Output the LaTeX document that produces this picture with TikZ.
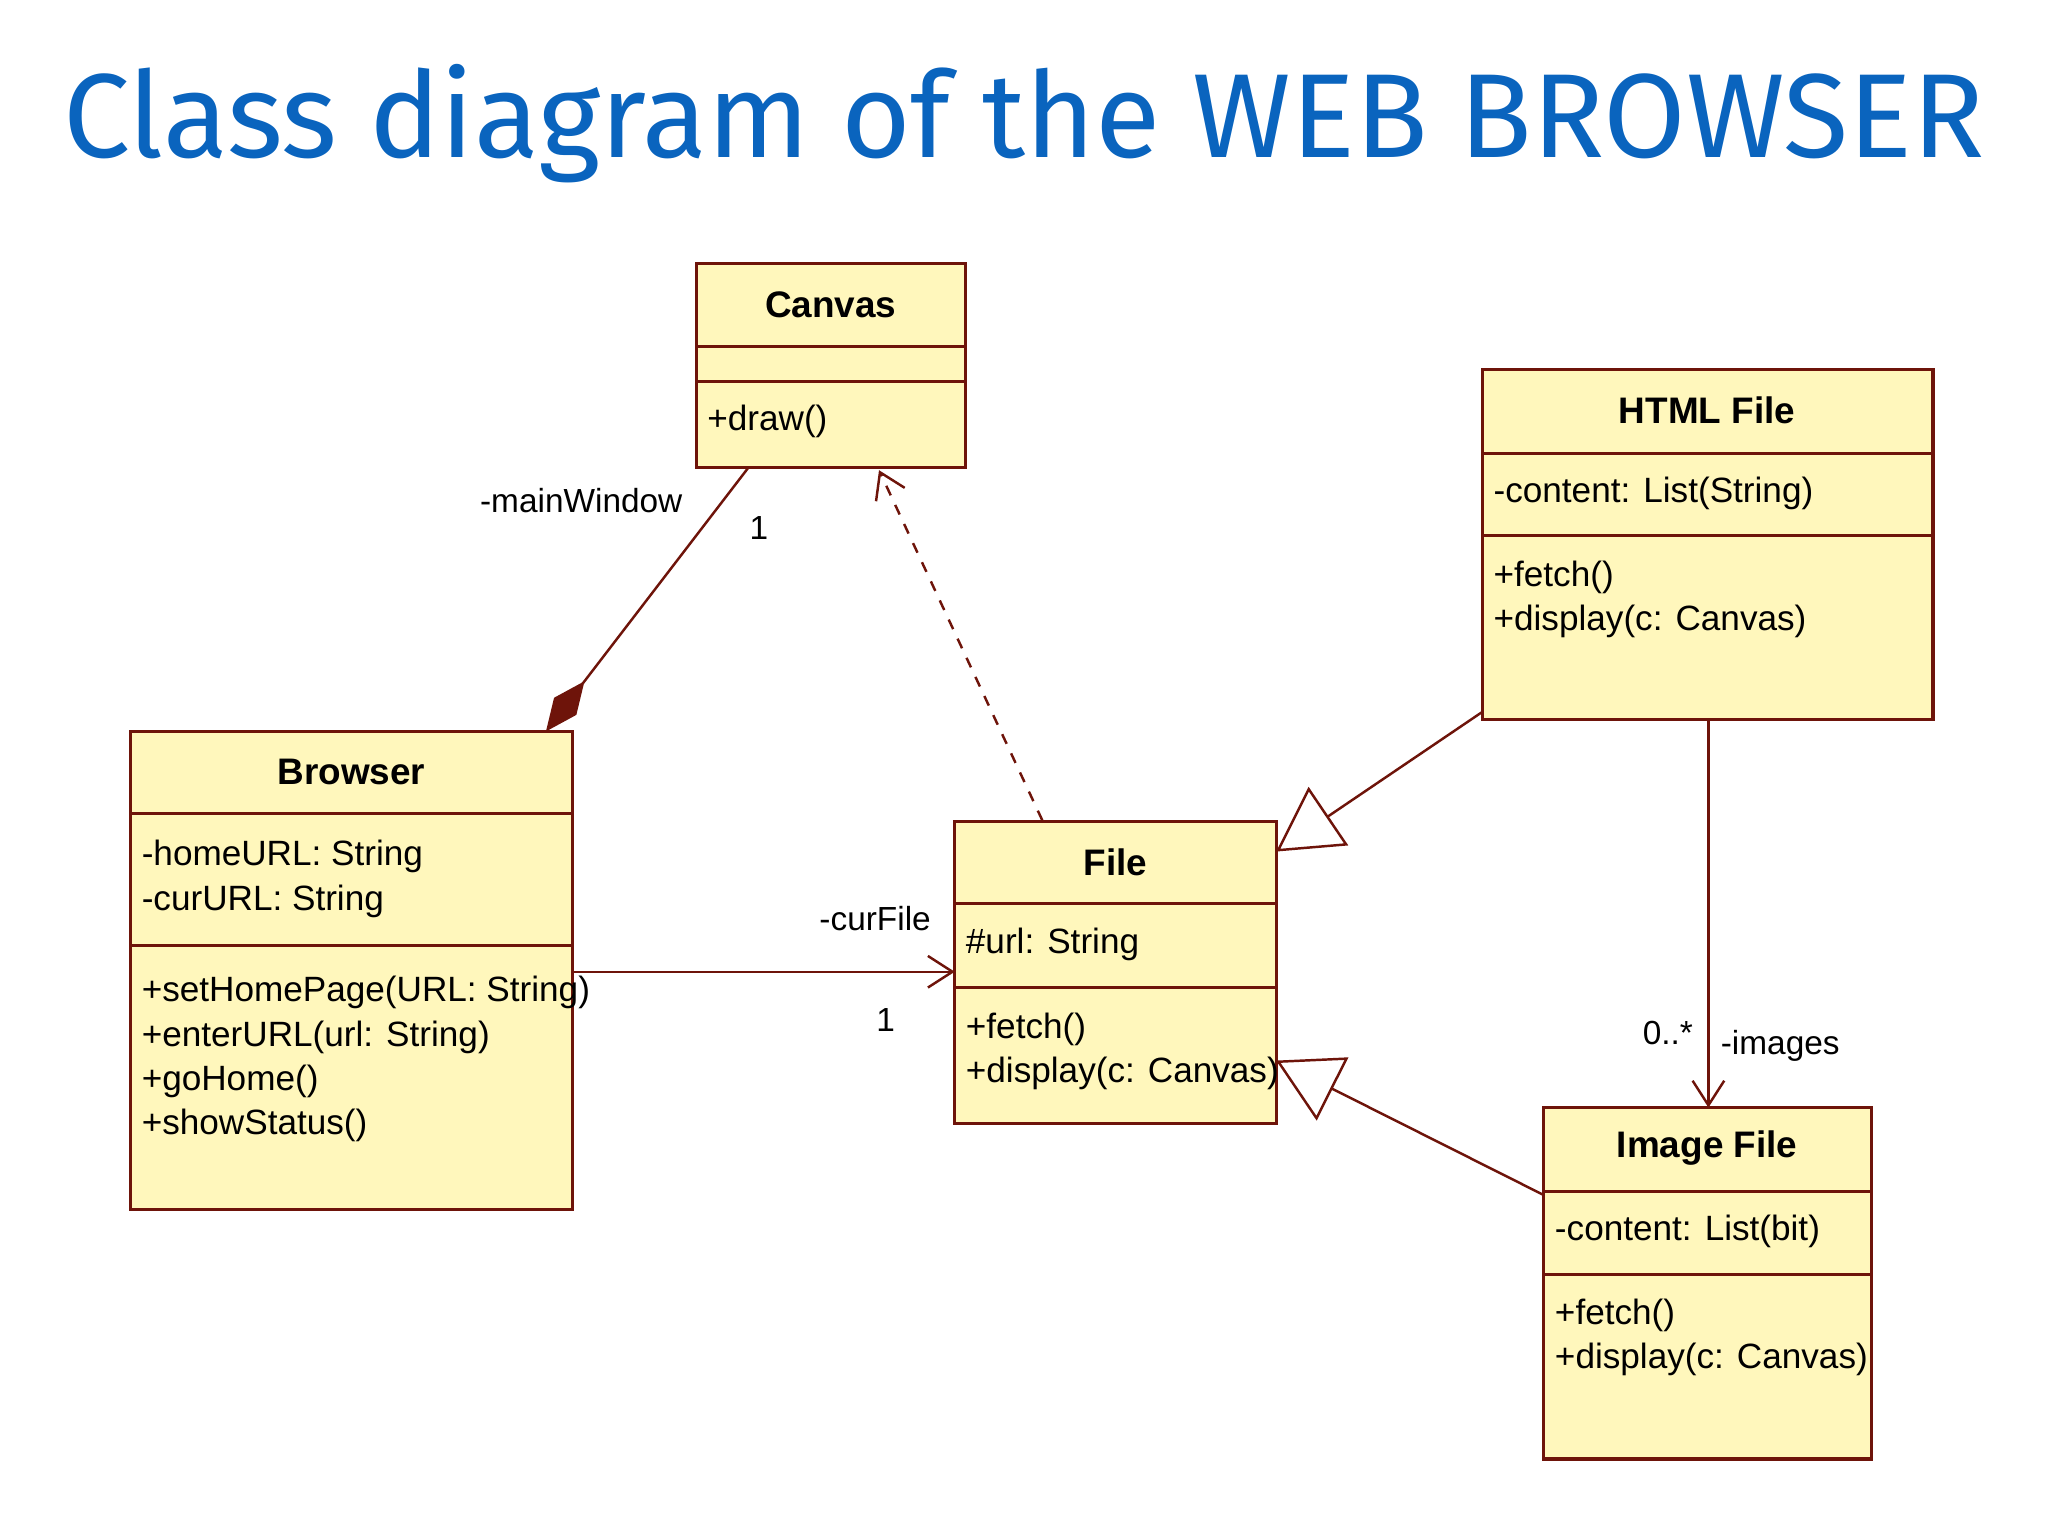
\documentclass[tikz,border=0pt]{standalone}
\usepackage{fontspec}
\setmainfont{Liberation Sans}
\newfontfamily\titlefont{Fira Sans}
\usetikzlibrary{arrows.meta,positioning}
\definecolor{boxfill}{RGB}{255,247,188}
\definecolor{boxline}{RGB}{110,20,10}
\definecolor{titleblue}{RGB}{10,100,190}
\begin{document}
\begin{tikzpicture}[x=0.013061cm,y=-0.013061cm,
  box/.style={fill=boxfill,draw=boxline,line width=0.9pt},
  clsname/.style={font=\bfseries\fontsize{10.5}{12}\selectfont},
  txt/.style={font=\fontsize{10}{12.6}\selectfont,anchor=west,align=left,inner sep=0pt},
  lbl/.style={font=\fontsize{9.5}{11}\selectfont,inner sep=0pt},
  link/.style={draw=boxline,line width=0.7pt}]
  \useasboundingbox (0,0) rectangle (1568,1176);

  % title
  \node[font=\titlefont\fontsize{34}{40}\selectfont,text=titleblue] (title) at (784,95) {Class diagram of the WEB BROWSER};

  % Canvas
  \draw[box] (533,202) rectangle (739,358);
  \draw[boxline,line width=0.9pt] (533,265) -- (739,265) (533,292) -- (739,292);
  \node[clsname] (canvasname) at (636,233) {Canvas};
  \node[txt] (canvasops) at (541,323) {+draw()};

  % HTML File
  \draw[box] (1135,283) rectangle (1480,551);
  \draw[boxline,line width=0.9pt] (1135,347) -- (1480,347) (1135,410) -- (1480,410);
  \node[clsname] (htmlname) at (1307,314) {HTML File};
  \node[txt] (htmlattr) at (1143,378) {-content: List(String)};
  \node[txt] (htmlops) at (1143,459) {+fetch()\\+display(c: Canvas)};

  % Browser
  \draw[box] (100,560) rectangle (438,926);
  \draw[boxline,line width=0.9pt] (100,623) -- (438,623) (100,724) -- (438,724);
  \node[clsname] (browsername) at (269,591) {Browser};
  \node[txt] (browserattr) at (108,673) {-homeURL: String\\-curURL: String};
  \node[txt] (browserops) at (108,811) {+setHomePage(URL: String)\\+enterURL(url: String)\\+goHome()\\+showStatus()};

  % File
  \draw[box] (731,629) rectangle (977,860);
  \draw[boxline,line width=0.9pt] (731,692) -- (977,692) (731,756) -- (977,756);
  \node[clsname] (filename) at (854,660) {File};
  \node[txt] (fileattr) at (739,723) {\#url: String};
  \node[txt] (fileops) at (739,805) {+fetch()\\+display(c: Canvas)};

  % Image File
  \draw[box] (1182,848) rectangle (1433,1117);
  \draw[boxline,line width=0.9pt] (1182,912) -- (1433,912) (1182,976) -- (1433,976);
  \node[clsname] (imagename) at (1307,879) {Image File};
  \node[txt] (imageattr) at (1190,943) {-content: List(bit)};
  \node[txt] (imageops) at (1190,1024) {+fetch()\\+display(c: Canvas)};

  % end points
  \coordinate (canvasbl) at (573,358);
  \coordinate (canvasbm) at (673,360);
  \coordinate (browsertr) at (418,560);
  \coordinate (browserr) at (438,744);
  \coordinate (filel) at (731,744);
  \coordinate (filet) at (798,628);
  \coordinate (filer1) at (977,652);
  \coordinate (filer2) at (977,812);
  \coordinate (htmlbl) at (1135,545);
  \coordinate (htmlb) at (1308,551);
  \coordinate (imaget) at (1308,848);
  \coordinate (imagel) at (1182,915);

  % links
  \draw[link,-{Diamond[length=18pt,width=8pt,fill=boxline]}] (canvasbl) -- (browsertr);
  \draw[link,dashed,-{Straight Barb[length=7pt,width=9pt]}] (filet) -- (canvasbm);
  \draw[link,-{Straight Barb[length=7pt,width=9pt]}] (browserr) -- (filel);
  \draw[link,-{Triangle[open,length=18pt,width=20pt,fill=white]}] (htmlbl) -- (filer1);
  \draw[link,-{Triangle[open,length=18pt,width=20pt,fill=white]}] (imagel) -- (filer2);
  \draw[link,-{Straight Barb[length=7pt,width=9pt]}] (htmlb) -- (imaget);

  % labels
  \node[lbl] (mainwin) at (445,383) {-mainWindow};
  \node[lbl] (mainone) at (581,404) {1};
  \node[lbl] (curfile) at (670,703) {-curFile};
  \node[lbl] (curone) at (678,781) {1};
  \node[lbl] (imgmult) at (1277,791) {0..*};
  \node[lbl] (images) at (1363,801) {-images};
\end{tikzpicture}
\end{document}
